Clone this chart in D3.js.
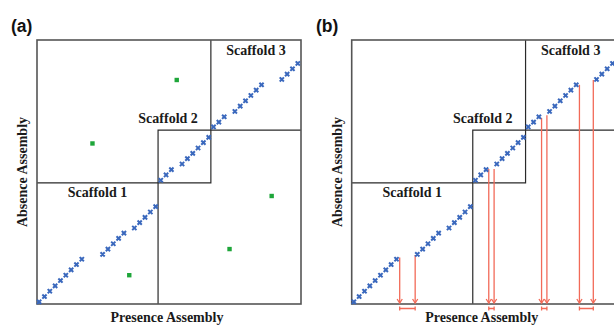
<!DOCTYPE html>
<html><head><meta charset="utf-8">
<script src="https://cdn.jsdelivr.net/npm/d3@7"></script>
<style>body{margin:0;background:#fff;overflow:hidden}</style>
</head><body>
<svg id="c" width="614" height="325"></svg>
<script>
// ---- data (positions in assembly units) ----
const panelLabels = ["(a)", "(b)"];
const scaffolds = ["Scaffold 1", "Scaffold 2", "Scaffold 3"];
const scaffoldEnds = [22.7, 32.6, 49.5];
const xTitle = "Presence Assembly";
const yTitle = "Absence Assembly";

const presencePos = [0.4,1.4,2.4,3.4,4.4,5.4,6.4,7.4,8.4,
  12.3,13.3,14.3,15.3,16.3,
  18.25,19.25,20.25,21.25,22.25,
  23.2,24.2,25.2,
  27.2,28.2,29.2,30.2,31.2,32.2,
  33.1,34.1,35.1,
  37.1,38.1,39.1,40.1,41.1,42.1,
  45.9,46.9,47.9,48.9];
const absencePos = [0.4,1.4,2.4,3.4,4.4,5.4,6.4,7.4,8.4,
  9.3,10.3,11.3,12.3,13.3,
  14.25,15.25,16.25,17.25,18.25,
  23.2,24.2,25.2,
  26.25,27.25,28.25,29.25,30.25,31.25,
  33.2,34.1,35.1,
  36.1,37.1,38.1,39.1,40.1,41.1,
  42.1,43.1,44.1,45.1];

const greenPresence = [10.4, 26.2, 44.0, 36.1, 17.3];
const greenAbsence  = [30.1, 42.0, 20.25, 10.3, 5.4];

const gapStartX   = [9.0, 25.7, 35.6, 42.7];
const gapStartTop = [8.7, 25.3, 34.9, 41.1];
const gapEndX     = [11.9, 26.7, 36.6, 45.3];
const gapEndTop   = [9.2, 25.3, 35.4, 42.0];

// ---- drawing ----
const svg = d3.select("#c");
const W = 264, TOP = 40;
const panels = [
  {label: panelLabels[0], left: 37, labX: 11, green: true, gaps: false},
  {label: panelLabels[1], left: 351.7, labX: 316, green: false, gaps: true}
];
const serif = "'Liberation Serif','Times New Roman',serif";
const red = "#f26a58";

panels.forEach(p => {
  const end = scaffoldEnds[2];
  const x = d3.scaleLinear().domain([0, end]).range([p.left, p.left + W]);
  const y = d3.scaleLinear().domain([0, end]).range([TOP + W, TOP]);
  const g = svg.append("g");
  const s1 = scaffoldEnds[0], s2 = scaffoldEnds[1];

  // inner block lines
  g.append("path")
    .attr("d", `M${x(0)},${y(s1)}H${x(s2)}V${y(end)}M${x(s1)},${y(0)}V${y(s2)}H${x(end)}`)
    .attr("fill", "none").attr("stroke", "#2a2a2a").attr("stroke-width", 1.2);

  // outer box
  g.append("rect")
    .attr("x", x(0)).attr("y", y(end))
    .attr("width", x(end) - x(0)).attr("height", y(0) - y(end))
    .attr("fill", "none").attr("stroke", "#555").attr("stroke-width", 1.6);

  // red gap lines
  if (p.gaps) {
    const rg = g.append("g").attr("stroke", red).attr("fill", "none").attr("stroke-width", 1.3);
    const arrow = (xx, yt) => {
      rg.append("line").attr("x1", x(xx)).attr("x2", x(xx)).attr("y1", y(yt)).attr("y2", y(0) - 1);
      rg.append("path").attr("d", `M${x(xx)-2.6},${y(0)-5}L${x(xx)},${y(0)-1}L${x(xx)+2.6},${y(0)-5}`);
    };
    gapStartX.forEach((gx, i) => {
      arrow(gx, gapStartTop[i]);
      arrow(gapEndX[i], gapEndTop[i]);
      const by = y(0) + 4.5;
      rg.append("path").attr("d",
        `M${x(gx)},${by-2}V${by+2}M${x(gx)},${by}H${x(gapEndX[i])}M${x(gapEndX[i])},${by-2}V${by+2}`);
    });
  }

  // blue markers
  const mk = g.append("g").attr("stroke", "#3a68bd").attr("stroke-width", 2).attr("stroke-linecap", "square");
  presencePos.forEach((px, i) => {
    const cx = x(px), cy = y(absencePos[i]), r = 1.4;
    mk.append("path").attr("d", `M${cx-r},${cy-r}L${cx+r},${cy+r}M${cx-r},${cy+r}L${cx+r},${cy-r}`);
  });

  // green points
  if (p.green) {
    g.selectAll("rect.gr").data(greenPresence).join("rect")
      .attr("class", "gr")
      .attr("x", (d) => x(d) - 2.2).attr("y", (d, i) => y(greenAbsence[i]) - 2.2)
      .attr("width", 4.4).attr("height", 4.4).attr("fill", "#1ea63a");
  }

  // scaffold labels
  const lab = (t, cx, by) => g.append("text").text(t)
    .attr("x", cx).attr("y", by).attr("text-anchor", "middle")
    .attr("font-family", serif).attr("font-weight", "bold").attr("font-size", 14).attr("fill", "#1a1a1a");
  lab(scaffolds[0], (x(0) + x(s1)) / 2, y(s1) + 14.5);
  lab(scaffolds[1], x(s1) + 10, y(s2) - 7);
  lab(scaffolds[2], (x(s2) + x(end)) / 2, y(end) + 15);

  // axis titles
  g.append("text").text(xTitle)
    .attr("x", (x(0) + x(end)) / 2 - 2).attr("y", y(0) + 17.5).attr("text-anchor", "middle")
    .attr("font-family", serif).attr("font-weight", "bold").attr("font-size", 14).attr("fill", "#1a1a1a");
  g.append("text").text(yTitle)
    .attr("transform", `translate(${x(0) - 10},${(y(0) + y(end)) / 2}) rotate(-90)`)
    .attr("text-anchor", "middle")
    .attr("font-family", serif).attr("font-weight", "bold").attr("font-size", 14).attr("fill", "#1a1a1a");

  // panel label
  svg.append("text").text(p.label).attr("x", p.labX).attr("y", 32)
    .attr("font-family", "'Liberation Sans',Arial,sans-serif").attr("font-weight", "bold")
    .attr("font-size", 17.5).attr("fill", "#111");
});
</script>
</body></html>
